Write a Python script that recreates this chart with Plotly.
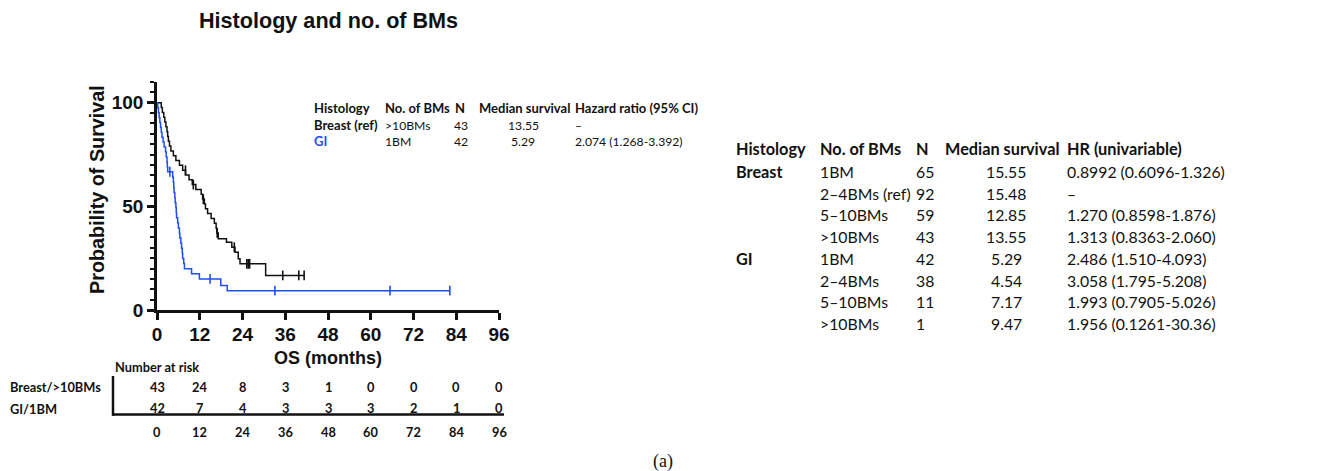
import plotly.graph_objects as go

# ---- Kaplan-Meier curves (months, % surviving) ----
breast_t = [0, 1.2, 1.5, 1.9, 2.2, 2.5, 2.8, 3.0, 3.2, 3.5, 3.9, 4.6, 5.3, 6.3, 7.2,
            8.0, 9.0, 9.9, 10.9, 12.4, 12.8, 13.3, 13.6, 14.2, 15.2, 16.1, 16.6, 16.8,
            17.2, 19.5, 21.0, 21.9, 22.8, 23.3, 30.5, 41.4]
breast_s = [100, 97.7, 95.3, 93.0, 90.7, 88.4, 86.0, 83.7, 81.4, 79.1, 76.7, 74.4, 72.1,
            69.8, 67.4, 65.1, 62.8, 60.5, 58.1, 55.8, 53.5, 51.2, 48.8, 46.5, 44.2, 41.8,
            39.5, 37.2, 34.4, 32.7, 30.3, 27.9, 24.7, 22.3, 16.7, 16.7]
breast_cens_t = [8.0, 10.2, 13.0, 16.9, 21.7, 25.2, 25.6, 26.0, 35.3, 39.8, 41.3]
breast_cens_s = [67.4, 60.5, 53.5, 37.2, 30.3, 22.3, 22.3, 22.3, 16.7, 16.7, 16.7]

gi_t = [0, 0.2, 0.4, 0.6, 0.8, 1.0, 1.2, 1.4, 1.7, 2.0, 2.4, 2.6, 2.8, 2.9, 3.0, 4.4,
        4.6, 4.7, 4.8, 5.0, 5.1, 5.3, 5.4, 5.5, 5.8, 6.0, 6.3, 6.4, 6.7, 6.9, 7.1, 7.2,
        7.5, 7.7, 9.7, 11.9, 17.9, 19.7, 82.2]
gi_s = [100, 97.6, 95.2, 92.9, 90.5, 88.1, 85.7, 83.3, 81.0, 78.6, 76.2, 73.8, 71.4,
        69.0, 66.7, 64.1, 61.6, 59.2, 56.7, 54.3, 51.8, 49.4, 46.9, 44.5, 42.0, 39.6,
        37.1, 34.7, 32.2, 29.8, 27.3, 24.9, 22.4, 19.9, 17.5, 15.0, 11.8, 9.3, 9.3]
gi_cens_t = [3.6, 14.9, 33.1, 65.4, 82.2]
gi_cens_s = [66.7, 15.0, 9.3, 9.3, 9.3]

# ---- number at risk ----
risk_times = [0, 12, 24, 36, 48, 60, 72, 84, 96]
risk_breast = [43, 24, 8, 3, 1, 0, 0, 0, 0]
risk_gi = [42, 7, 4, 3, 3, 3, 2, 1, 0]
risk_labels = ["Breast/>10BMs", "GI/1BM"]

# ---- inset summary ----
inset_header = ["Histology", "No. of BMs", "N", "Median survival", "Hazard ratio (95% CI)"]
inset_hist = ["Breast (ref)", "GI"]
inset_bms = [">10BMs", "1BM"]
inset_n = [43, 42]
inset_median = ["13.55", "5.29"]
inset_hr = ["–", "2.074 (1.268-3.392)"]

# ---- univariable table ----
tbl_header = ["Histology", "No. of BMs", "N", "Median survival", "HR (univariable)"]
tbl_hist = ["Breast", "", "", "", "GI", "", "", ""]
tbl_bms = ["1BM", "2–4BMs (ref)", "5–10BMs", ">10BMs", "1BM", "2–4BMs", "5–10BMs", ">10BMs"]
tbl_n = [65, 92, 59, 43, 42, 38, 11, 1]
tbl_median = ["15.55", "15.48", "12.85", "13.55", "5.29", "4.54", "7.17", "9.47"]
tbl_hr = ["0.8992 (0.6096-1.326)", "–", "1.270 (0.8598-1.876)", "1.313 (0.8363-2.060)",
          "2.486 (1.510-4.093)", "3.058 (1.795-5.208)", "1.993 (0.7905-5.026)",
          "1.956 (0.1261-30.36)"]

BLACK = "#111111"
BLUE = "#1d4ff5"
AX_FONT = "Liberation Sans, Arial, sans-serif"
TB_FONT = "Lato, Carlito, Calibri, sans-serif"

W, H = 1325, 471
L, R, T, B = 157, 499, 82, 310
PW, PH = R - L, B - T

INSET_BOLD, INSET_REG = 13, 12.2
TABLE_BOLD, TABLE_REG = 16.3, 15.8
RISK_SIZE = 12.8


def px(x):
    return (x - L) / PW


def py(y):
    return (B - y) / PH


def text(s, x, y, size, anchor="left", color=BLACK, bold=False, family=TB_FONT, angle=0):
    return dict(text=s, x=px(x), y=py(y), xref="paper", yref="paper", xanchor=anchor,
                yanchor="middle", showarrow=False, textangle=angle,
                font=dict(family=family, size=size, color=color,
                          weight="bold" if bold else "normal"))


fig = go.Figure()
fig.add_trace(go.Scatter(x=breast_t, y=breast_s, mode="lines", line_shape="hv",
                         line=dict(color=BLACK, width=1.5), hoverinfo="skip"))
fig.add_trace(go.Scatter(x=gi_t, y=gi_s, mode="lines", line_shape="hv",
                         line=dict(color=BLUE, width=1.5), hoverinfo="skip"))
fig.add_trace(go.Scatter(x=breast_cens_t, y=breast_cens_s, mode="markers",
                         marker=dict(symbol="line-ns-open", size=7, color=BLACK,
                                     line=dict(color=BLACK, width=1.6)), hoverinfo="skip"))
fig.add_trace(go.Scatter(x=gi_cens_t, y=gi_cens_s, mode="markers",
                         marker=dict(symbol="line-ns-open", size=7, color=BLUE,
                                     line=dict(color=BLUE, width=1.6)), hoverinfo="skip"))

ann = []
ann.append(text("Histology and no. of BMs", 328, 21, 21.6, anchor="center", bold=True, family=AX_FONT))
ann.append(text("Probability of Survival", 97, 190, 19.8, anchor="center", bold=True,
                family=AX_FONT, angle=-90))
ann.append(text("OS (months)", 328, 358, 18, anchor="center", bold=True, family=AX_FONT))

# inset summary inside the plot
ins_x = [311.7, 382.7, 453.3, 476.7, 572.7]
ins_rows = [125, 141]
for cx, h in zip(ins_x, inset_header):
    ann.append(text(h, cx, 108.3, INSET_BOLD, bold=True))
for i, yy in enumerate(ins_rows):
    col = BLACK if i == 0 else BLUE
    ann.append(text(inset_hist[i], ins_x[0], yy, INSET_BOLD, bold=True, color=col))
    ann.append(text(inset_bms[i], ins_x[1], yy, INSET_REG))
    ann.append(text(str(inset_n[i]), 461, yy, INSET_REG, anchor="center"))
    ann.append(text(inset_median[i], 523, yy, INSET_REG, anchor="center"))
    ann.append(text(inset_hr[i], ins_x[4], yy, INSET_REG))

# univariable table on the right
tb_x = [734, 818.3, 914.3, 942.7, 1065]
tb_rows = [171.7, 193.3, 215, 236.7, 258.3, 280, 301.7, 323.4]
for cx, h in zip(tb_x, tbl_header):
    ann.append(text(h, cx, 148, TABLE_BOLD, bold=True))
for i, yy in enumerate(tb_rows):
    if tbl_hist[i]:
        ann.append(text(tbl_hist[i], tb_x[0], yy, TABLE_BOLD, bold=True))
    ann.append(text(tbl_bms[i], tb_x[1], yy, TABLE_REG))
    ann.append(text(str(tbl_n[i]), tb_x[2], yy, TABLE_REG))
    ann.append(text(tbl_median[i], 1006, yy, TABLE_REG, anchor="center"))
    ann.append(text(tbl_hr[i], tb_x[4], yy, TABLE_REG))

# number-at-risk table
ann.append(text("Number at risk", 113, 366.7, RISK_SIZE, bold=True))
ann.append(text(risk_labels[0], 8, 387.3, RISK_SIZE, bold=True))
ann.append(text(risk_labels[1], 8, 409, RISK_SIZE, bold=True))
for rowvals, yy in ((risk_breast, 387.3), (risk_gi, 408.3), (risk_times, 432.3)):
    for t, v in zip(risk_times, rowvals):
        ann.append(dict(text=str(v), x=t, y=py(yy), xref="x", yref="paper",
                        xanchor="center", yanchor="middle", showarrow=False,
                        font=dict(family=TB_FONT, size=RISK_SIZE, color=BLACK, weight="bold")))

ann.append(text("(a)", 663, 462, 18, anchor="center", family="Liberation Serif, Times New Roman, serif"))

shapes = [
    dict(type="line", xref="paper", yref="paper", x0=px(112), x1=px(504),
         y0=py(414.5), y1=py(414.5), line=dict(color=BLACK, width=2.5)),
    dict(type="line", xref="paper", yref="paper", x0=px(113), x1=px(113),
         y0=py(376), y1=py(415.7), line=dict(color=BLACK, width=2.5)),
]

fig.update_layout(
    width=W, height=H,
    margin=dict(l=L, r=W - R, t=T, b=H - B, pad=0),
    paper_bgcolor="white", plot_bgcolor="white",
    showlegend=False,
    annotations=ann, shapes=shapes,
    xaxis=dict(range=[0, 96], tickvals=risk_times, ticks="outside", ticklen=7,
               tickwidth=2.5, tickcolor=BLACK, showline=True, linewidth=2.5,
               linecolor=BLACK, showgrid=False, zeroline=False, ticklabelstandoff=-2,
               tickfont=dict(family=AX_FONT, size=19, color=BLACK, weight="bold")),
    yaxis=dict(range=[0, 110], tickvals=[0, 50, 100], ticks="outside", ticklen=7,
               tickwidth=2.5, tickcolor=BLACK, showline=True, linewidth=2.5,
               linecolor=BLACK, showgrid=False, zeroline=False,
               minor=dict(tick0=0, dtick=5, ticks="outside", ticklen=4, tickwidth=2,
                          tickcolor=BLACK, showgrid=False),
               tickfont=dict(family=AX_FONT, size=19, color=BLACK, weight="bold")),
)

fig.write_html("out.html")
